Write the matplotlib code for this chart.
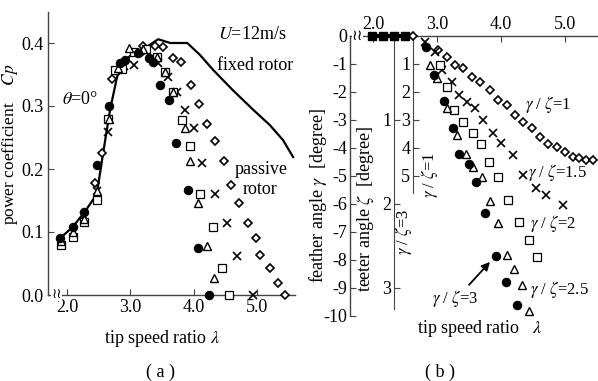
import numpy as np
import matplotlib
matplotlib.use("Agg")
import matplotlib.pyplot as plt

plt.rcParams["font.family"] = ["Liberation Serif", "DejaVu Serif"]
plt.rcParams["mathtext.fontset"] = "stix"

# ---- panel (a): power coefficient vs tip speed ratio ----
fixed_lam = [1.89, 2.09, 2.28, 2.47, 2.57, 2.68, 2.79, 2.88, 3.04, 3.26, 3.44, 3.63,
             3.9, 4.1, 4.31, 4.62, 4.94, 5.2, 5.41, 5.57]
fixed_cp = [0.09, 0.108, 0.132, 0.16, 0.225, 0.294, 0.346, 0.368, 0.384, 0.394, 0.406, 0.40,
            0.40, 0.381, 0.357, 0.325, 0.294, 0.27, 0.246, 0.219]

cp_r3_lam = [1.89, 2.09, 2.27, 2.47, 2.66, 2.84, 2.92, 3.12, 3.3, 3.36, 3.47, 3.61, 3.72, 3.91, 4.07, 4.24]
cp_r3 = [0.09, 0.108, 0.131, 0.206, 0.30, 0.368, 0.373, 0.384, 0.376, 0.37, 0.333, 0.31, 0.241, 0.167, 0.075, 0.0]

cp_r25_lam = [1.9, 2.09, 2.27, 2.47, 2.67, 2.8, 2.98, 3.2, 3.42, 3.55, 3.67, 3.87, 3.94, 4.07, 4.21, 4.32]
cp_r25 = [0.085, 0.1, 0.12, 0.165, 0.28, 0.36, 0.392, 0.39, 0.378, 0.354, 0.322, 0.265, 0.213, 0.146, 0.077, 0.027]

cp_r2_lam = [1.9, 2.09, 2.27, 2.47, 2.65, 2.76, 2.87, 3.05, 3.25, 3.42, 3.55, 3.67, 3.81, 3.94, 4.1, 4.3, 4.45, 4.56]
cp_r2 = [0.079, 0.092, 0.116, 0.151, 0.28, 0.357, 0.358, 0.385, 0.39, 0.378, 0.354, 0.322, 0.277, 0.237,
         0.161, 0.108, 0.043, 0.0]

cp_r15_lam = [2.27, 2.47, 2.65, 2.9, 3.05, 3.25, 3.44, 3.6, 3.74, 3.86, 4.0, 4.13, 4.34, 4.53, 4.69, 4.94]
cp_r15 = [0.125, 0.165, 0.259, 0.363, 0.365, 0.385, 0.368, 0.346, 0.322, 0.294, 0.265, 0.209, 0.16,
          0.115, 0.062, 0.0]

cp_r1_lam = [2.44, 2.55, 2.71, 3.2, 3.39, 3.52, 3.67, 3.8, 3.96, 4.09, 4.21, 4.33, 4.48, 4.59, 4.72,
             4.86, 4.99, 5.05, 5.2, 5.33, 5.44]
cp_r1 = [0.178, 0.226, 0.343, 0.395, 0.395, 0.394, 0.376, 0.37, 0.333, 0.303, 0.271, 0.244, 0.213,
         0.175, 0.146, 0.114, 0.09, 0.063, 0.043, 0.019, 0.0]

cp_ticks = [0.0, 0.1, 0.2, 0.3, 0.4]
lam_ticks = [2.0, 3.0, 4.0, 5.0]

# ---- panel (b): feather angle vs tip speed ratio ----
zero_lam = [1.98, 2.16, 2.33, 2.5]
zero_gam = [0, 0, 0, 0]

g_r1_lam = [2.63, 3.02, 3.16, 3.28, 3.41, 3.55, 3.67, 3.83, 3.95, 4.09, 4.22, 4.34, 4.48, 4.61, 4.73,
            4.88, 5.0, 5.13, 5.23, 5.34, 5.44]
g_r1 = [0, -0.5, -0.75, -1.04, -1.14, -1.46, -1.64, -1.93, -2.29, -2.46, -2.82, -3.07, -3.29, -3.61,
        -3.86, -3.96, -4.14, -4.32, -4.36, -4.43, -4.43]

g_r15_lam = [2.81, 2.97, 3.08, 3.23, 3.34, 3.47, 3.59, 3.72, 3.88, 4.0, 4.19, 4.34, 4.55, 4.7, 4.97]
g_r15 = [-0.21, -0.57, -1.21, -1.64, -2.11, -2.36, -2.57, -3.0, -3.46, -3.82, -4.25, -4.96, -5.43,
         -5.68, -6.04]

g_r2_lam = [3.05, 3.16, 3.27, 3.41, 3.56, 3.69, 3.81, 3.95, 4.11, 4.28, 4.44, 4.56]
g_r2 = [-1.04, -1.82, -2.64, -3.07, -3.46, -3.86, -4.5, -5.04, -5.86, -6.64, -7.29, -7.89]

g_r25_lam = [2.89, 3.0, 3.16, 3.31, 3.45, 3.56, 3.7, 3.83, 3.95, 4.09, 4.2, 4.33, 4.44]
g_r25 = [-1.04, -1.5, -2.57, -3.54, -4.21, -4.68, -5.04, -5.89, -6.68, -7.82, -8.32, -8.89, -9.82]

g_r3_lam = [2.83, 2.95, 3.11, 3.25, 3.34, 3.5, 3.61, 3.75, 3.92, 4.08, 4.25]
g_r3 = [-0.39, -1.39, -2.32, -3.29, -4.21, -4.57, -5.21, -6.32, -7.86, -8.79, -9.61]

feather_ticks = [0, -1, -2, -3, -4, -5, -6, -7, -8, -9, -10]
feather_labels = ["0", "-1", "-2", "-3", "-4", "-5", "-6", "-7", "-8", "-9", "-10"]
teeter3_ticks = [1, 2, 3]
teeter1_ticks = [1, 2, 3, 4, 5]

FS = 13
SPINE = "#444444"

markers = {
    "r3": dict(marker="o", ms=6, mfc="black", mec="black", mew=0.8),
    "r25": dict(marker="^", ms=5.5, mfc="white", mec="black", mew=1.0),
    "r2": dict(marker="s", ms=5.5, mfc="white", mec="black", mew=0.9),
    "r15": dict(marker="x", ms=6, mec="black", mew=1.2),
    "r1": dict(marker="D", ms=4.3, mfc="white", mec="black", mew=1.2),
}

fig = plt.figure(figsize=(5.98, 3.81), dpi=100)
W, H = 598.0, 381.0

# ---------------- (a) ----------------
ax = fig.add_axes([48 / W, (H - 295) / H, (295 - 48) / W, (295 - 11.5) / H])
ax.set_xlim(1.70, 5.6)
ax.set_ylim(0.0, 0.45)
for s in ["top", "right"]:
    ax.spines[s].set_visible(False)
for s in ["left", "bottom"]:
    ax.spines[s].set_color(SPINE)
    ax.spines[s].set_linewidth(1.0)

ax.plot(fixed_lam, fixed_cp, color="black", lw=1.6, zorder=2)
ax.plot(cp_r1_lam, cp_r1, ls="none", zorder=3, clip_on=False, **markers["r1"])
ax.plot(cp_r15_lam, cp_r15, ls="none", zorder=3, clip_on=False, **markers["r15"])
ax.plot(cp_r2_lam, cp_r2, ls="none", zorder=3, clip_on=False, **markers["r2"])
ax.plot(cp_r25_lam, cp_r25, ls="none", zorder=3, clip_on=False, **markers["r25"])
ax.plot(cp_r3_lam, cp_r3, ls="none", zorder=4, clip_on=False, **markers["r3"])

ax.set_xticks(lam_ticks, labels=[f"{v:.1f}" for v in lam_ticks])
ax.set_yticks(cp_ticks, labels=[f"{v:.1f}" for v in cp_ticks])
ax.tick_params(direction="in", length=4, width=0.8, color=SPINE, labelsize=FS, pad=3)

ax.set_xlabel(r"tip speed ratio $\lambda$", fontsize=FS)
ax.xaxis.set_label_coords(0.46, -0.118)
ax.set_ylabel(r"power coefficient    $Cp$", fontsize=12.5)
ax.yaxis.set_label_coords(-0.115, 0.53)

ax.text(4.39, 0.413, r"$U$=12m/s", fontsize=FS, va="center", ha="left")
ax.text(4.37, 0.365, "fixed rotor", fontsize=FS, va="center", ha="left")
ax.text(1.92, 0.31, r"$\theta$=0°", fontsize=FS, va="center", ha="left")
ax.text(4.65, 0.200, "passive", fontsize=FS, va="center", ha="left")
ax.text(4.78, 0.167, "rotor", fontsize=FS, va="center", ha="left")
ax.text(0.035, 0.005, "≀≀", transform=ax.transAxes, fontsize=10, ha="center", va="center",
        family="DejaVu Sans", bbox=dict(fc="white", ec="none", pad=0.1))

# ---------------- (b) ----------------
ax2 = fig.add_axes([350 / W, (H - 316) / H, (598 - 350) / W, (316 - 36) / H])
ax2.set_xlim(1.64, 5.52)
ax2.set_ylim(-10, 0)
for s in ["bottom", "right"]:
    ax2.spines[s].set_visible(False)
for s in ["left", "top"]:
    ax2.spines[s].set_color(SPINE)
    ax2.spines[s].set_linewidth(1.0)

ax2.xaxis.tick_top()
ax2.set_xticks(lam_ticks, labels=[f"{v:.1f}" for v in lam_ticks])
ax2.set_yticks(feather_ticks, labels=feather_labels)
ax2.tick_params(direction="in", length=4, width=0.8, color=SPINE, labelsize=FS, pad=2)

ax2.plot(zero_lam, zero_gam, color="black", lw=3, marker="s", ms=5.5, mfc="black", mec="black",
         clip_on=False, zorder=4)
ax2.plot(g_r1_lam, g_r1, ls="none", zorder=3, clip_on=False, **markers["r1"])
ax2.plot(g_r15_lam, g_r15, ls="none", zorder=3, clip_on=False, **markers["r15"])
ax2.plot(g_r2_lam, g_r2, ls="none", zorder=3, clip_on=False, **markers["r2"])
ax2.plot(g_r25_lam, g_r25, ls="none", zorder=3, clip_on=False, **markers["r25"])
ax2.plot(g_r3_lam, g_r3, ls="none", zorder=4, clip_on=False, **markers["r3"])

x0, x1 = ax2.get_xlim()
sec3 = ax2.secondary_yaxis((2.33 - x0) / (x1 - x0),
                           functions=(lambda g: -np.asarray(g) / 3.0, lambda z: -3.0 * np.asarray(z)))
sec3.set_yticks(teeter3_ticks)
sec3.spines["left"].set_bounds(0, 3.25)
sec3.spines["left"].set_color(SPINE)
sec3.tick_params(direction="in", length=4, width=0.8, color=SPINE, labelsize=FS, pad=2)

sec1 = ax2.secondary_yaxis((2.625 - x0) / (x1 - x0),
                           functions=(lambda g: -np.asarray(g), lambda z: -np.asarray(z)))
sec1.set_yticks(teeter1_ticks)
sec1.spines["left"].set_bounds(0, 5.6)
sec1.spines["left"].set_color(SPINE)
sec1.tick_params(direction="in", length=4, width=0.8, color=SPINE, labelsize=FS, pad=2)

ax2.text(-0.129, 0.43, r"feather angle $\gamma$  [degree]", transform=ax2.transAxes, rotation=90,
         fontsize=FS, ha="center", va="center")
ax2.text(0.062, 0.38, r"teeter angle $\zeta$  [degree]", transform=ax2.transAxes, rotation=90,
         fontsize=FS, ha="center", va="center")
ax2.text(0.524, -0.045, r"tip speed ratio   $\lambda$", transform=ax2.transAxes,
         fontsize=FS, ha="center", va="center")

ax2.text(2.89, -4.96, r"$\gamma$ / $\zeta$=1", rotation=90, fontsize=12, ha="center", va="center")
ax2.text(2.47, -7.0, r"$\gamma$ / $\zeta$=3", rotation=90, fontsize=12, ha="center", va="center")
ax2.text(4.375, -2.46, r"$\gamma$ / $\zeta$=1", fontsize=12, ha="left", va="center")
ax2.text(4.42, -4.89, r"$\gamma$ / $\zeta$=1.5", fontsize=12, ha="left", va="center")
ax2.text(4.45, -6.68, r"$\gamma$ / $\zeta$=2", fontsize=12, ha="left", va="center")
ax2.text(4.45, -9.07, r"$\gamma$ / $\zeta$=2.5", fontsize=12, ha="left", va="center")
ax2.annotate(r"$\gamma$ / $\zeta$=3", xy=(3.83, -8.07), xytext=(2.92, -9.36), fontsize=12,
             ha="left", va="center",
             arrowprops=dict(arrowstyle="-|>", color="black", lw=1.3, shrinkA=0, shrinkB=0,
                             relpos=(0.75, 1.0)))
ax2.text(0.03, 1.0, "≀≀", transform=ax2.transAxes, fontsize=11, ha="center", va="center",
         family="DejaVu Sans", bbox=dict(fc="white", ec="none", pad=0.1))

fig.text(160 / W, 1 - 372 / H, "( a )", fontsize=FS, ha="center", va="center")
fig.text(440 / W, 1 - 372 / H, "( b )", fontsize=FS, ha="center", va="center")

fig.savefig("out.png", dpi=100)
